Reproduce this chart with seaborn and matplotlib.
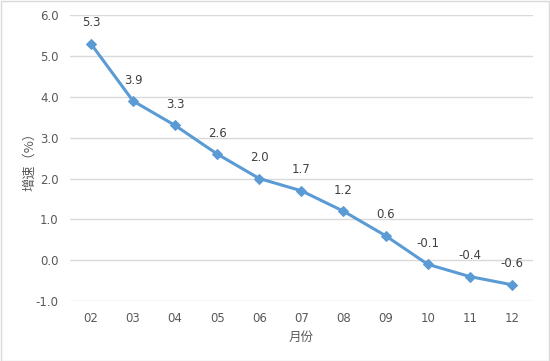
import matplotlib
matplotlib.use("Agg")
import matplotlib.pyplot as plt
import seaborn as sns
import pandas as pd

months = ["02", "03", "04", "05", "06", "07", "08", "09", "10", "11", "12"]
growth = [5.3, 3.9, 3.3, 2.6, 2.0, 1.7, 1.2, 0.6, -0.1, -0.4, -0.6]
y_ticks = [-1.0, 0.0, 1.0, 2.0, 3.0, 4.0, 5.0, 6.0]

sns.set_theme(style="white")
plt.rcParams['font.family'] = ['DejaVu Sans', 'Noto Sans CJK SC']

df = pd.DataFrame({"month": months, "growth": growth})
text_color = "#595959"
line_color = "#5B9BD5"

fig = plt.figure(figsize=(5.5, 3.61), dpi=100)
ax = fig.add_axes([0.127, 0.166, 0.842, 0.792])
sns.lineplot(data=df, x="month", y="growth", ax=ax, color=line_color,
             linewidth=2.2, marker="D", markersize=5.5, markeredgecolor=line_color,
             sort=False)

for i, v in enumerate(growth):
    ax.annotate(f"{v:.1f}", (i, v), xytext=(0, 15), textcoords="offset points",
                ha="center", va="center", fontsize=8.5, color="#404040")

ax.set_xlim(-0.5, len(months) - 0.5)
ax.set_ylim(-1.0, 6.0)
ax.set_yticks(y_ticks)
ax.set_yticklabels([f"{t:.1f}" for t in y_ticks])
ax.yaxis.grid(True, color="#D9D9D9", linewidth=1)
ax.xaxis.grid(False)
for s in ax.spines.values():
    s.set_visible(False)
ax.tick_params(axis="both", length=0, labelsize=8.5, labelcolor=text_color, pad=8)
ax.set_xlabel("月份", fontsize=9, color=text_color,
              family=['Noto Sans CJK SC', 'DejaVu Sans'], labelpad=4.5)
ax.set_ylabel("增速（%）", fontsize=9.5, color=text_color,
              family=['Noto Sans CJK SC', 'DejaVu Sans'], labelpad=0)

fig.patches.append(plt.Rectangle((0.001, 0.001), 0.997, 0.996, transform=fig.transFigure,
                                 fill=False, edgecolor="#D9D9D9", linewidth=1))
fig.savefig("out.png", dpi=100, facecolor="white")
